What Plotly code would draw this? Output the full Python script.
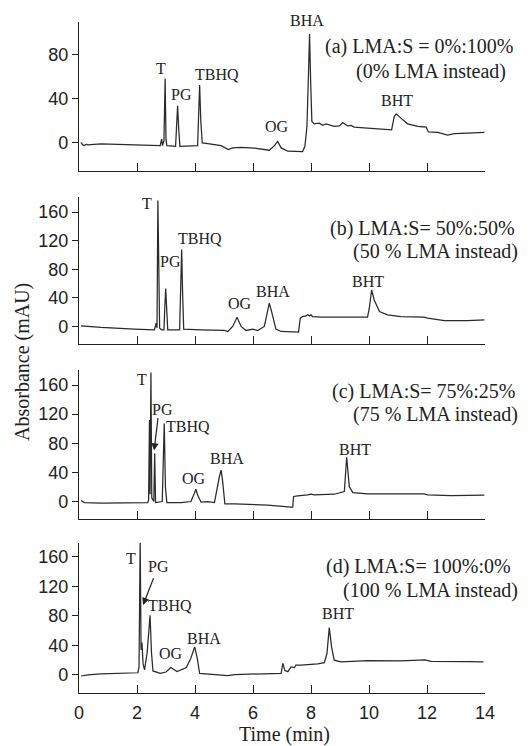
import plotly.graph_objects as go

# ---------------- data ----------------
t_a = [0.07,0.13,0.18,0.26,0.30,0.76,1.91,2.80,2.85,2.88,2.93,2.97,3.00,3.03,3.33,3.37,3.40,3.44,3.48,
       4.09,4.13,4.16,4.20,4.25,4.44,4.90,5.15,5.30,5.59,6.05,6.56,6.74,6.85,6.97,7.20,7.71,7.79,7.86,
       7.92,7.95,7.99,8.03,8.11,8.29,8.40,8.52,8.80,8.98,9.09,9.26,9.38,9.49,9.95,10.53,10.78,10.87,
       10.94,11.10,11.33,11.68,11.97,12.05,12.37,12.71,12.94,13.40,13.98]
y_a = [0.6,-1.8,-2.4,-1.2,-1.8,-0.9,-1.8,-2.4,3.6,-2.4,2,58.6,3,-2.4,-3,15,33.7,12,-3,
       -2.4,24,52.6,20,0,-0.6,-2.4,-6,-4.5,-4,-4.8,-6.6,-2.4,1.5,-4.5,-7.5,-7.8,-3,15,
       69,99,54,19.5,17.4,18,16,17.4,15,15.6,18.6,15.6,16,14.4,13.5,12,12,24,
       26.5,22.6,17.4,15,14.4,10,9.6,7.2,8.4,9,9.6]

t_b = [0.07,0.30,0.76,1.91,2.60,2.66,2.69,2.72,2.75,2.78,2.85,2.93,2.96,2.99,3.02,3.06,3.47,3.51,3.54,
       3.57,3.61,4.21,5.01,5.13,5.30,5.45,5.59,5.76,5.99,6.16,6.39,6.50,6.56,6.64,6.79,6.97,7.43,7.57,
       7.63,7.71,7.83,7.89,7.94,8.00,8.05,8.34,9.95,10.01,10.09,10.18,10.36,10.64,11.10,11.90,12.02,
       12.60,13.40,13.98]
y_b = [0.9,0,-1.4,-3.7,-4.6,4.6,-2,176,60,-2.3,-4.6,-4.6,28,53,28,-4.6,-4.6,51,107.6,
       51,-3.7,-4.6,-5.6,-7,0,13,0,-5.6,-3.7,-5.6,0,20.9,32.5,20.9,-3.7,-7,-7.9,-7.9,
       11.6,13.9,14.8,16.7,14.8,16.2,13.9,13,13,25.5,51,37,20.9,16.2,13.9,13,11.6,
       8.3,8.3,9.3]

t_c = [0.07,0.18,0.76,1.91,2.37,2.40,2.43,2.45,2.48,2.51,2.55,2.58,2.61,2.64,2.87,2.91,2.94,2.98,3.03,
       3.52,3.86,3.98,4.03,4.09,4.21,4.44,4.67,4.84,4.90,4.95,5.03,5.36,6.51,7.31,7.37,7.40,7.54,7.89,
       8.00,8.11,8.80,9.15,9.23,9.32,9.44,9.95,11.10,11.90,12.02,12.83,13.98]
y_c = [1.4,-1.4,-2.3,-2.3,-1.4,2,112,10,177,5,1.4,0,66,-1.4,0,60,107,20,-1.4,
       -1.4,0,11.4,17,9,-0.9,0,-1.4,34,43,29,-3.2,-3.2,-5,-7.8,-7.8,6.9,7.8,9,
       10,9,10,13.7,60.8,20.6,12.3,10.5,10.5,10.5,9.1,8.2,8.7]

t_d = [0.07,0.30,0.76,1.91,2.03,2.07,2.11,2.14,2.17,2.21,2.26,2.35,2.45,2.50,2.55,2.80,3.00,3.17,3.38,
       3.70,3.85,3.99,4.08,4.16,4.41,5.13,5.36,6.97,7.03,7.10,7.20,7.31,7.43,7.48,7.66,8.23,8.46,8.55,
       8.63,8.71,8.80,9.03,9.95,11.10,11.93,12.14,13.40,13.95]
y_d = [-1.4,0,1.4,2.3,3,11,183,34,43.8,15,6.9,30,80.7,30,5.5,2.3,4,10,4.6,
       10,22,38,22,2,1,-0.9,0.5,2.3,15.8,5.9,4.5,11,10,13.5,13.5,14.9,16.7,29,
       64,38,20,17.6,19.4,19,20.3,18.5,18,17.6]

x_ticks = [0, 2, 4, 6, 8, 10, 12, 14]
y_ticks_a = [0, 40, 80]
y_ticks_bcd = [0, 40, 80, 120, 160]

peak_names = ["T", "PG", "TBHQ", "OG", "BHA", "BHT"]
cond_line1 = ["(a) LMA:S = 0%:100%", "(b) LMA:S= 50%:50%", "(c) LMA:S= 75%:25%", "(d) LMA:S= 100%:0%"]
cond_line2 = ["(0% LMA instead)", "(50 % LMA instead)", "(75 % LMA instead)", "(100 % LMA instead)"]

# ---------------- layout ----------------
# the page places the figure 8 px in from the top-left corner (body margin)
OFF = 8
W, H = 530 - OFF, 746 - OFF


def px_x(p):
    return (p - OFF) / W


def px_y(p):
    return 1 - (p - OFF) / H


X0, X1 = 79, 485
panels = [  # (top px, bottom px, yrange)
    (22, 171, [-25.5, 110]),
    (197, 344, [-24.5, 181]),
    (370, 519, [-24, 180.6]),
    (543, 693, [-24.4, 178.6]),
]
series = [(t_a, y_a), (t_b, y_b), (t_c, y_c), (t_d, y_d)]
yticks = [y_ticks_a, y_ticks_bcd, y_ticks_bcd, y_ticks_bcd]

# label positions (time, value, pixel shift up) per panel, order as peak_names
label_pos = [
    [(2.82, 67.9, 0), (3.54, 44.3, 0), (4.77, 62.7, 0), (6.84, 14.8, 0), (7.85, 107, 5), (10.96, 39, 0)],
    [(2.33, 171.6, 0), (3.14, 90.4, 0), (4.17, 123, 0), (5.55, 32.5, 0), (6.68, 48.7, 0), (9.98, 62.6, 0)],
    [(2.16, 168, 0), (2.89, 125.8, 0), (3.77, 102.9, 0), (3.97, 32.1, 0), (5.09, 59.5, 0), (9.52, 71.9, 0)],
    [(1.78, 158, 0), (2.73, 146.5, 0), (3.14, 94.7, 0), (3.16, 29.4, 0), (4.31, 49.7, 0), (8.94, 83.5, 0)],
]
cond_pos = [  # (right px line1, y px line1, right px line2, y px line2)
    (515, 46.7, 508, 71.7),
    (517, 228.3, 520, 251.7),
    (517, 391.7, 520, 415),
    (513, 566.7, 520, 590),
]

serif = "Liberation Serif, Times New Roman, serif"
sans = "Liberation Sans, Arial, sans-serif"
ink = "#222222"

fig = go.Figure()
annotations = []
layout_axes = {}
for i, ((top, bot, yr), (tt, yy), yt) in enumerate(zip(panels, series, yticks)):
    n = i + 1
    xs = "" if n == 1 else str(n)
    fig.add_trace(go.Scatter(x=tt, y=yy, mode="lines", xaxis="x" + xs, yaxis="y" + xs,
                             line=dict(color="#2a2a2a", width=1.25), showlegend=False,
                             hoverinfo="skip"))
    layout_axes["xaxis" + xs] = dict(
        domain=[px_x(X0), px_x(X1)], range=[0, 14], anchor="y" + xs, automargin=False,
        showline=True, linecolor=ink, linewidth=1.3, showgrid=False, zeroline=False,
        ticks="inside", ticklen=8, tickwidth=1.3, tickcolor=ink,
        tickvals=x_ticks, showticklabels=(n == 4), ticklabelstandoff=3,
        tickfont=dict(family=sans, size=18, color=ink),
    )
    layout_axes["yaxis" + xs] = dict(
        domain=[px_y(bot), px_y(top)], range=yr, anchor="x" + xs, automargin=False,
        showline=True, linecolor=ink, linewidth=1.3, showgrid=False, zeroline=False,
        ticks="outside", ticklen=6, tickwidth=1.3, tickcolor=ink,
        tickvals=yt, tickfont=dict(family=sans, size=18, color=ink),
    )
    for name, (lx, ly, sh) in zip(peak_names, label_pos[i]):
        annotations.append(dict(x=lx, y=ly, xref="x" + xs, yref="y" + xs, text=name,
                                xanchor="center", yanchor="middle", yshift=sh,
                                showarrow=False, font=dict(family=serif, size=16, color=ink)))
    r1, y1, r2, y2 = cond_pos[i]
    annotations.append(dict(x=px_x(r1), y=px_y(y1), xref="paper", yref="paper", text=cond_line1[i],
                            xanchor="right", yanchor="middle", showarrow=False,
                            font=dict(family=serif, size=20, color=ink)))
    annotations.append(dict(x=px_x(r2), y=px_y(y2), xref="paper", yref="paper", text=cond_line2[i],
                            xanchor="right", yanchor="middle", showarrow=False,
                            font=dict(family=serif, size=20, color=ink)))

# PG arrows in panels c and d
annotations.append(dict(x=2.59, y=70, ax=2.73, ay=116.6, xref="x3", yref="y3", axref="x3", ayref="y3",
                        text="", showarrow=True, arrowhead=2, arrowsize=1.2, arrowwidth=1.2,
                        arrowcolor=ink))
annotations.append(dict(x=2.21, y=94.7, ax=2.59, ay=133, xref="x4", yref="y4", axref="x4", ayref="y4",
                        text="", showarrow=True, arrowhead=2, arrowsize=1.2, arrowwidth=1.2,
                        arrowcolor=ink))

# axis titles
annotations.append(dict(x=px_x(284), y=px_y(734), xref="paper", yref="paper", text="Time (min)",
                        xanchor="center", yanchor="middle",
                        showarrow=False, font=dict(family=serif, size=20, color=ink)))
annotations.append(dict(x=px_x(22), y=px_y(362), xref="paper", yref="paper", text="Absorbance (mAU)",
                        xanchor="center", yanchor="middle",
                        textangle=-90, showarrow=False, font=dict(family=serif, size=20, color=ink)))

fig.update_layout(width=W, height=H, margin=dict(l=0, r=0, t=0, b=0, pad=0),
                  paper_bgcolor="white", plot_bgcolor="white",
                  annotations=annotations, **layout_axes)

fig.write_html("out.html")
